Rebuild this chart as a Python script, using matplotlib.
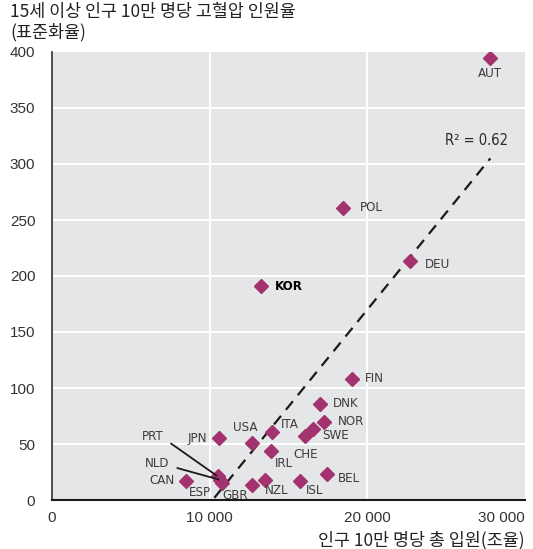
import matplotlib
matplotlib.use("Agg")
import matplotlib.pyplot as plt

# data
countries = ["AUT", "POL", "DEU", "KOR", "FIN", "DNK", "NOR", "SWE", "CHE", "ITA", "USA",
             "JPN", "IRL", "CAN", "PRT", "NLD", "ESP", "GBR", "NZL", "ISL", "BEL"]
hosp_rate = [27800, 18450, 22700, 13250, 19050, 17000, 17250, 16550, 16050, 13950, 12700,
             10600, 13900, 8500, 10520, 10650, 10780, 12700, 13500, 15700, 17450]
hyper_rate = [395, 261, 213, 191, 108, 86, 70, 63, 57, 61, 51,
              55, 44, 17, 21, 18, 15, 13, 18, 17, 23]
trend_x = [10300, 27800]
trend_y = [2, 305]
r2_text = "R² = 0.62"
x_ticks = [0, 10000, 20000, 30000]
x_tick_labels = ["0", "10 000", "20 000", "30 000"]
y_ticks = [0, 50, 100, 150, 200, 250, 300, 350, 400]

# label offsets (pixels) and alignment per country
label_pos = {
    "AUT": (0, -16, "center"), "POL": (17, 0, "left"), "DEU": (15, -3, "left"),
    "KOR": (14, 0, "left"), "FIN": (13, 1, "left"), "DNK": (13, 0, "left"),
    "NOR": (14, 0, "left"), "SWE": (9, -6, "left"), "CHE": (1, -18, "center"),
    "ITA": (18, 7, "center"), "USA": (-7, 15, "center"), "JPN": (-12, 0, "right"),
    "IRL": (13, -13, "center"), "CAN": (-11, 0, "right"), "ESP": (-22, -9, "center"),
    "GBR": (-17, -10, "center"), "NZL": (12, -11, "center"), "ISL": (15, -10, "center"),
    "BEL": (11, -4, "left"),
}
leader_pos = {"PRT": (-65, 40), "NLD": (-63, 16)}

KR = ["Noto Sans CJK KR", "DejaVu Sans"]
NARROW = ["DejaVu Sans"]
marker_col = "#a3336f"
bg_col = "#e5e6e8"
lab_col = "#3d3d3d"

fig = plt.figure(figsize=(5.33, 5.49), dpi=100)
ax = fig.add_axes([52 / 533, 1 - 500 / 549, 473 / 533, 448 / 549])
ax.set_facecolor(bg_col)
ax.set_xlim(0, 30000)
ax.set_ylim(0, 400)

for y in y_ticks[1:-1]:
    ax.axhline(y, color="white", lw=1.5, zorder=1)
for x in x_ticks[1:-1]:
    ax.axvline(x, color="white", lw=1.5, zorder=1)

ax.plot(trend_x, trend_y, color="#1a1a1a", lw=1.6, ls=(0, (5, 3.5)), zorder=2)
ax.plot(hosp_rate, hyper_rate, ls="none", marker="D", ms=7.2, color=marker_col,
        mec=marker_col, zorder=3)

for c, x, y in zip(countries, hosp_rate, hyper_rate):
    if c in label_pos:
        dx, dy, ha = label_pos[c]
        bold = c == "KOR"
        ax.annotate(c, (x, y), xytext=(dx, dy), textcoords="offset pixels",
                    ha=ha, va="center", fontsize=9.5, family=NARROW, fontstretch="condensed",
                    color="black" if bold else lab_col,
                    fontweight="bold" if bold else "normal", zorder=4)
    else:
        dx, dy = leader_pos[c]
        ax.annotate(c, (x, y), xytext=(dx, dy), textcoords="offset pixels",
                    ha="center", va="center", fontsize=9.5, family=NARROW,
                    fontstretch="condensed", color=lab_col,
                    arrowprops=dict(arrowstyle="-", color="#1a1a1a", lw=1.3,
                                    relpos=(1.0, 0.35), shrinkA=4, shrinkB=1),
                    zorder=4)

ax.text(24900, 321, r2_text, fontsize=10.5, family=NARROW, fontstretch="condensed",
        color="#2a2a2a", ha="left", va="center")

ax.set_xticks(x_ticks)
ax.set_xticklabels(x_tick_labels, family=["Liberation Sans"], fontsize=11, color="#333333")
ax.get_xticklabels()[-1].set_ha("right")
ax.set_yticks(y_ticks)
ax.set_yticklabels([str(v) for v in y_ticks], family=["Liberation Sans"], fontsize=11,
                   color="#333333")
ax.tick_params(axis="both", length=0)
ax.tick_params(axis="y", pad=12)
ax.tick_params(axis="x", pad=8)

for s in ["top", "right"]:
    ax.spines[s].set_visible(False)
ax.spines["left"].set_color("#333333")
ax.spines["bottom"].set_color("#1a1a1a")
ax.spines["left"].set_linewidth(1.2)
ax.spines["bottom"].set_linewidth(1.5)

fig.text(10 / 533, 1 - 12 / 549, "15세 이상 인구 10만 명당 고혈압 인원율", family=KR,
         fontsize=12.5, color="#222222", ha="left", va="center")
fig.text(10 / 533, 1 - 32 / 549, "(표준화율)", family=KR, fontsize=12.5, color="#222222",
         ha="left", va="center")
fig.text(525 / 533, 1 - 540 / 549, "인구 10만 명당 총 입원(조율)", family=KR, fontsize=12.5,
         color="#222222", ha="right", va="center")

fig.savefig("out.png", dpi=100)
